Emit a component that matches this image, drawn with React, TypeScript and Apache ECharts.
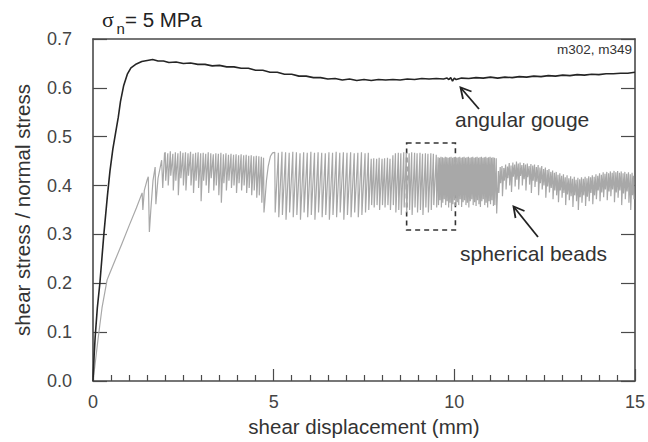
import React, { useEffect, useRef } from "react";
import * as echarts from "echarts";

// ---- data ----
const Y_TICKS = [0, 0.1, 0.2, 0.3, 0.4, 0.5, 0.6, 0.7];
const X_TICKS = [0, 5, 10, 15];

// angular gouge: [displacement mm, friction]
const angularGouge: number[][] = [
  [0, 0], [0.03, 0.05], [0.06, 0.09], [0.12, 0.15], [0.19, 0.2], [0.3, 0.3], [0.4, 0.38],
  [0.47, 0.43], [0.55, 0.475], [0.63, 0.51], [0.7, 0.54], [0.76, 0.572], [0.85, 0.605],
  [0.95, 0.628], [1.05, 0.641], [1.2, 0.649], [1.35, 0.654], [1.5, 0.656], [1.65, 0.658],
  [1.8, 0.655], [1.95, 0.655], [2.1, 0.652], [2.3, 0.653], [2.5, 0.65], [2.7, 0.651],
  [2.9, 0.648], [3.1, 0.648], [3.3, 0.645], [3.5, 0.646], [3.7, 0.643], [3.9, 0.643],
  [4.1, 0.64], [4.3, 0.64], [4.5, 0.636], [4.7, 0.636], [4.9, 0.632], [5.1, 0.632],
  [5.3, 0.628], [5.5, 0.628], [5.7, 0.624], [5.9, 0.624], [6.1, 0.621], [6.3, 0.621],
  [6.5, 0.618], [6.7, 0.619], [6.9, 0.616], [7.1, 0.618], [7.3, 0.615], [7.5, 0.617],
  [7.7, 0.615], [7.9, 0.617], [8.1, 0.616], [8.3, 0.617], [8.5, 0.616], [8.7, 0.618],
  [8.9, 0.617], [9.1, 0.619], [9.3, 0.618], [9.5, 0.619], [9.7, 0.618], [9.8, 0.62],
  [9.85, 0.617], [9.9, 0.621], [9.95, 0.614], [10.0, 0.62], [10.05, 0.617], [10.2, 0.62],
  [10.4, 0.619], [10.6, 0.621], [10.8, 0.62], [11.0, 0.622], [11.2, 0.62], [11.4, 0.622],
  [11.6, 0.621], [11.8, 0.623], [12.0, 0.622], [12.2, 0.624], [12.4, 0.623], [12.6, 0.625],
  [12.8, 0.624], [13.0, 0.626], [13.2, 0.625], [13.4, 0.627], [13.6, 0.626], [13.8, 0.628],
  [14.0, 0.627], [14.2, 0.629], [14.4, 0.629], [14.6, 0.63], [14.8, 0.63], [15.0, 0.632],
];

// spherical beads, loading part: [mm, friction]
const beadsLoading: number[][] = [
  [0, 0], [0.05, 0.03], [0.14, 0.086], [0.25, 0.15], [0.39, 0.207], [0.45, 0.218],
  [0.6, 0.245], [0.8, 0.281], [1.0, 0.318], [1.2, 0.354], [1.36, 0.385], [1.38, 0.35],
  [1.42, 0.39], [1.5, 0.412], [1.53, 0.418], [1.56, 0.305], [1.6, 0.35], [1.66, 0.41],
  [1.72, 0.438], [1.74, 0.362], [1.8, 0.415], [1.9, 0.452], [1.93, 0.395], [1.98, 0.466],
];

// stick-slip cycles: [mm at peak, peak friction, friction after slip]
const beadsCyclesA: number[][] = [
  [2.0, 0.468, 0.41], [2.07, 0.466, 0.4], [2.14, 0.47, 0.42], [2.21, 0.465, 0.39],
  [2.28, 0.468, 0.41], [2.35, 0.466, 0.38], [2.42, 0.47, 0.415], [2.49, 0.467, 0.4],
  [2.56, 0.468, 0.39], [2.63, 0.466, 0.42], [2.7, 0.469, 0.4], [2.77, 0.465, 0.385],
  [2.84, 0.467, 0.41], [2.91, 0.468, 0.395], [2.98, 0.466, 0.368], [3.05, 0.467, 0.41],
  [3.12, 0.465, 0.4], [3.19, 0.468, 0.385], [3.26, 0.466, 0.415], [3.33, 0.464, 0.39],
  [3.4, 0.466, 0.4], [3.47, 0.465, 0.38], [3.54, 0.467, 0.365], [3.61, 0.464, 0.405],
  [3.68, 0.466, 0.39], [3.75, 0.463, 0.41], [3.82, 0.465, 0.395], [3.89, 0.463, 0.4],
  [3.96, 0.464, 0.385], [4.03, 0.462, 0.405], [4.1, 0.464, 0.39], [4.17, 0.462, 0.4],
  [4.24, 0.463, 0.385], [4.31, 0.461, 0.395], [4.38, 0.462, 0.38], [4.45, 0.46, 0.39],
  [4.52, 0.461, 0.375], [4.59, 0.46, 0.38], [4.66, 0.459, 0.365], [4.72, 0.457, 0.345],
];

const beadsRecovery: number[][] = [
  [4.76, 0.37], [4.8, 0.41], [4.85, 0.44], [4.91, 0.46], [4.97, 0.467],
];

const beadsCyclesB: number[][] = [
  [5.03, 0.468, 0.345], [5.13, 0.467, 0.335], [5.23, 0.469, 0.34], [5.33, 0.468, 0.33],
  [5.43, 0.467, 0.345], [5.53, 0.469, 0.335], [5.63, 0.468, 0.34], [5.73, 0.466, 0.33],
  [5.83, 0.468, 0.345], [5.93, 0.467, 0.335], [6.03, 0.469, 0.34], [6.13, 0.467, 0.33],
  [6.23, 0.468, 0.345], [6.33, 0.467, 0.335], [6.43, 0.466, 0.34], [6.53, 0.468, 0.33],
  [6.63, 0.467, 0.34], [6.73, 0.469, 0.335], [6.83, 0.467, 0.345], [6.93, 0.468, 0.33],
  [7.03, 0.467, 0.34], [7.13, 0.468, 0.335], [7.23, 0.466, 0.345], [7.33, 0.467, 0.335],
  [7.43, 0.468, 0.34], [7.53, 0.466, 0.345], [7.62, 0.467, 0.35],
];

const beadsCyclesC: number[][] = [
  [7.7, 0.455, 0.36], [7.77, 0.456, 0.355], [7.85, 0.455, 0.36], [7.92, 0.457, 0.35],
  [8.0, 0.455, 0.36], [8.07, 0.456, 0.355], [8.15, 0.457, 0.36], [8.22, 0.455, 0.35],
  [8.3, 0.462, 0.36], [8.37, 0.466, 0.345], [8.45, 0.467, 0.35], [8.52, 0.466, 0.34],
  [8.6, 0.468, 0.355], [8.67, 0.467, 0.345], [8.75, 0.466, 0.35], [8.82, 0.468, 0.34],
  [8.9, 0.467, 0.355], [8.97, 0.466, 0.345], [9.05, 0.467, 0.35], [9.12, 0.465, 0.34],
  [9.2, 0.466, 0.355], [9.27, 0.465, 0.345], [9.35, 0.466, 0.35], [9.42, 0.465, 0.36],
  [9.5, 0.463, 0.355],
];

const beadsCyclesD: number[][] = [
  [9.55, 0.458, 0.36], [9.59, 0.457, 0.37], [9.63, 0.459, 0.355], [9.67, 0.458, 0.365],
  [9.71, 0.457, 0.372], [9.75, 0.459, 0.36], [9.79, 0.458, 0.368], [9.83, 0.457, 0.355],
  [9.87, 0.458, 0.365], [9.91, 0.459, 0.348], [9.95, 0.457, 0.362], [9.99, 0.458, 0.37],
  [10.03, 0.459, 0.358], [10.07, 0.457, 0.366], [10.11, 0.458, 0.36], [10.15, 0.459, 0.372],
  [10.19, 0.457, 0.356], [10.23, 0.458, 0.366], [10.27, 0.459, 0.37], [10.31, 0.457, 0.36],
  [10.35, 0.458, 0.365], [10.39, 0.459, 0.355], [10.43, 0.457, 0.368], [10.47, 0.458, 0.372],
  [10.51, 0.459, 0.36], [10.55, 0.457, 0.366], [10.59, 0.458, 0.358], [10.63, 0.459, 0.37],
  [10.67, 0.457, 0.362], [10.71, 0.458, 0.356], [10.75, 0.459, 0.368], [10.79, 0.457, 0.372],
  [10.83, 0.458, 0.36], [10.87, 0.459, 0.365], [10.91, 0.457, 0.355], [10.95, 0.458, 0.368],
  [10.99, 0.459, 0.362], [11.03, 0.457, 0.37], [11.07, 0.458, 0.358], [11.11, 0.457, 0.36],
  [11.16, 0.456, 0.343],
];

const beadsCyclesE: number[][] = [
  [11.22, 0.43, 0.385], [11.27, 0.438, 0.405], [11.32, 0.44, 0.378], [11.37, 0.436, 0.41],
  [11.42, 0.443, 0.392], [11.47, 0.439, 0.415], [11.52, 0.446, 0.4], [11.57, 0.441, 0.387],
  [11.62, 0.447, 0.418], [11.67, 0.443, 0.398], [11.72, 0.449, 0.412], [11.77, 0.445, 0.392],
  [11.82, 0.447, 0.42], [11.87, 0.442, 0.4], [11.92, 0.446, 0.413], [11.97, 0.443, 0.39],
  [12.02, 0.445, 0.417], [12.07, 0.44, 0.402], [12.12, 0.444, 0.385], [12.17, 0.441, 0.41],
  [12.22, 0.443, 0.397], [12.27, 0.438, 0.408], [12.32, 0.442, 0.38], [12.37, 0.437, 0.405],
  [12.42, 0.44, 0.392], [12.47, 0.434, 0.4], [12.52, 0.437, 0.375], [12.57, 0.432, 0.398],
  [12.62, 0.434, 0.386], [12.67, 0.428, 0.395], [12.72, 0.431, 0.372], [12.77, 0.426, 0.39],
  [12.82, 0.428, 0.38], [12.87, 0.422, 0.366], [12.92, 0.425, 0.39], [12.97, 0.42, 0.375],
  [13.02, 0.423, 0.385], [13.07, 0.417, 0.36], [13.12, 0.421, 0.382], [13.17, 0.415, 0.37],
  [13.22, 0.419, 0.378], [13.27, 0.414, 0.356], [13.32, 0.418, 0.38], [13.37, 0.412, 0.368],
  [13.42, 0.416, 0.35], [13.47, 0.413, 0.376], [13.52, 0.417, 0.365], [13.57, 0.414, 0.38],
  [13.62, 0.418, 0.358], [13.67, 0.415, 0.377], [13.72, 0.419, 0.368], [13.77, 0.417, 0.385],
  [13.82, 0.421, 0.362], [13.87, 0.418, 0.38], [13.92, 0.423, 0.372], [13.97, 0.42, 0.39],
  [14.02, 0.425, 0.368], [14.07, 0.422, 0.386], [14.12, 0.427, 0.376], [14.17, 0.424, 0.392],
  [14.22, 0.428, 0.37], [14.27, 0.425, 0.388], [14.32, 0.429, 0.378], [14.37, 0.426, 0.392],
  [14.42, 0.43, 0.366], [14.47, 0.427, 0.386], [14.52, 0.43, 0.375], [14.57, 0.426, 0.39],
  [14.62, 0.429, 0.36], [14.67, 0.425, 0.384], [14.72, 0.428, 0.372], [14.77, 0.424, 0.388],
  [14.82, 0.427, 0.365], [14.87, 0.423, 0.35], [14.92, 0.426, 0.38], [14.96, 0.42, 0.372],
];

// dashed box region [x0, y0, x1, y1] in data units
const boxRegion = [8.68, 0.487, 10.03, 0.309];

// ---- build series data ----
function slipPoints(cycles: number[][]): number[][] {
  const out: number[][] = [];
  for (const [x, peak, after] of cycles) {
    out.push([x, peak]);
    out.push([x + 0.012, after]);
  }
  return out;
}

const beadsData: number[][] = [
  ...beadsLoading,
  ...slipPoints(beadsCyclesA),
  ...beadsRecovery,
  ...slipPoints(beadsCyclesB),
  ...slipPoints(beadsCyclesC),
  ...slipPoints(beadsCyclesD),
  ...slipPoints(beadsCyclesE),
];

const FONT = "'Liberation Sans', Arial, Helvetica, sans-serif";
const FRAME = "#4a4a4a";

function arrowHead(tx: number, ty: number, ax: number, ay: number, bx: number, by: number) {
  return {
    type: "polyline",
    shape: { points: [[ax, ay], [tx, ty], [bx, by]] },
    style: { stroke: "#222", lineWidth: 1.8, fill: "none" },
  };
}

export default function App() {
  const ref = useRef<HTMLDivElement>(null);

  useEffect(() => {
    if (!ref.current) return;
    const chart = echarts.init(ref.current, undefined, { renderer: "svg" });
    const option: any = {
      animation: false,
      backgroundColor: "#ffffff",
      textStyle: { fontFamily: FONT },
      grid: { left: 93, right: 11, top: 39, bottom: 60, containLabel: false },
      xAxis: [
        {
          type: "value",
          min: X_TICKS[0],
          max: X_TICKS[X_TICKS.length - 1],
          interval: 5,
          position: "bottom",
          name: "shear displacement (mm)",
          nameLocation: "middle",
          nameGap: 35,
          nameTextStyle: { fontSize: 20.5, color: "#333", fontFamily: FONT },
          axisLine: { show: true, onZero: false, lineStyle: { color: FRAME, width: 1.6 } },
          axisTick: { show: true, inside: true, length: 12, lineStyle: { color: FRAME, width: 1.2 } },
          minorTick: { show: true, splitNumber: 10, length: 6, lineStyle: { color: FRAME, width: 1.2 } },
          axisLabel: { fontSize: 18, color: "#444", margin: 12, fontFamily: FONT },
          splitLine: { show: false },
        },
        {
          type: "value",
          min: X_TICKS[0],
          max: X_TICKS[X_TICKS.length - 1],
          position: "top",
          axisLine: { show: true, onZero: false, lineStyle: { color: FRAME, width: 1.6 } },
          axisTick: { show: false },
          axisLabel: { show: false },
          splitLine: { show: false },
        },
      ],
      yAxis: [
        {
          type: "value",
          min: Y_TICKS[0],
          max: Y_TICKS[Y_TICKS.length - 1],
          interval: 0.1,
          position: "left",
          name: "shear stress / normal stress",
          nameLocation: "middle",
          nameGap: 60,
          nameTextStyle: { fontSize: 20.5, color: "#333", fontFamily: FONT },
          axisLine: { show: true, onZero: false, lineStyle: { color: FRAME, width: 1.6 } },
          axisTick: { show: true, inside: true, length: 14, lineStyle: { color: FRAME, width: 1.2 } },
          axisLabel: {
            fontSize: 18,
            color: "#444",
            margin: 21,
            fontFamily: FONT,
            formatter: (v: number) => v.toFixed(1),
          },
          splitLine: { show: false },
        },
        {
          type: "value",
          min: Y_TICKS[0],
          max: Y_TICKS[Y_TICKS.length - 1],
          interval: 0.1,
          position: "right",
          axisLine: { show: true, onZero: false, lineStyle: { color: FRAME, width: 1.6 } },
          axisTick: { show: true, inside: true, length: 14, lineStyle: { color: FRAME, width: 1.2 } },
          axisLabel: { show: false },
          splitLine: { show: false },
        },
      ],
      series: [
        {
          type: "line",
          name: "spherical beads",
          data: beadsData,
          xAxisIndex: 0,
          yAxisIndex: 0,
          showSymbol: false,
          symbol: "none",
          lineStyle: { color: "#a8a8a8", width: 1.2 },
          z: 2,
          markArea: {
            silent: true,
            itemStyle: {
              color: "rgba(0,0,0,0)",
              borderColor: "#333",
              borderWidth: 1.6,
              borderType: [5, 4],
            },
            data: [[{ coord: [boxRegion[0], boxRegion[1]] }, { coord: [boxRegion[2], boxRegion[3]] }]],
          },
        },
        {
          type: "line",
          name: "angular gouge",
          data: angularGouge,
          xAxisIndex: 0,
          yAxisIndex: 0,
          showSymbol: false,
          symbol: "none",
          lineStyle: { color: "#252525", width: 1.6 },
          z: 3,
        },
      ],
      graphic: [
        { type: "text", x: 102, y: 19, style: { text: "σ", font: "22px 'Liberation Serif', serif", fill: "#222", verticalAlign: "middle" } },
        { type: "text", x: 116.5, y: 28, style: { text: "n", font: "15px " + FONT, fill: "#222", verticalAlign: "middle" } },
        { type: "text", x: 125, y: 19.5, style: { text: "= 5 MPa", font: "20.5px " + FONT, fill: "#222", verticalAlign: "middle" } },
        { type: "text", x: 632, y: 49, style: { text: "m302, m349", font: "13.5px " + FONT, fill: "#333", align: "right", verticalAlign: "middle" } },
        { type: "text", x: 455, y: 119, style: { text: "angular gouge", font: "21px " + FONT, fill: "#333", verticalAlign: "middle" } },
        { type: "text", x: 460, y: 253, style: { text: "spherical beads", font: "21px " + FONT, fill: "#333", verticalAlign: "middle" } },
        { type: "line", shape: { x1: 460.5, y1: 87.5, x2: 479, y2: 109 }, style: { stroke: "#222", lineWidth: 1.8 } },
        arrowHead(460.5, 87.5, 463, 99, 471.5, 91.5),
        { type: "line", shape: { x1: 513.5, y1: 206.5, x2: 538, y2: 237 }, style: { stroke: "#222", lineWidth: 1.8 } },
        arrowHead(513.5, 206.5, 515.5, 218, 524.5, 211),
      ],
    };
    chart.setOption(option);
    return () => chart.dispose();
  }, []);

  return (
    <div
      ref={ref}
      style={{ position: "absolute", left: 0, top: 0, width: 648, height: 442, background: "#fff" }}
    />
  );
}
